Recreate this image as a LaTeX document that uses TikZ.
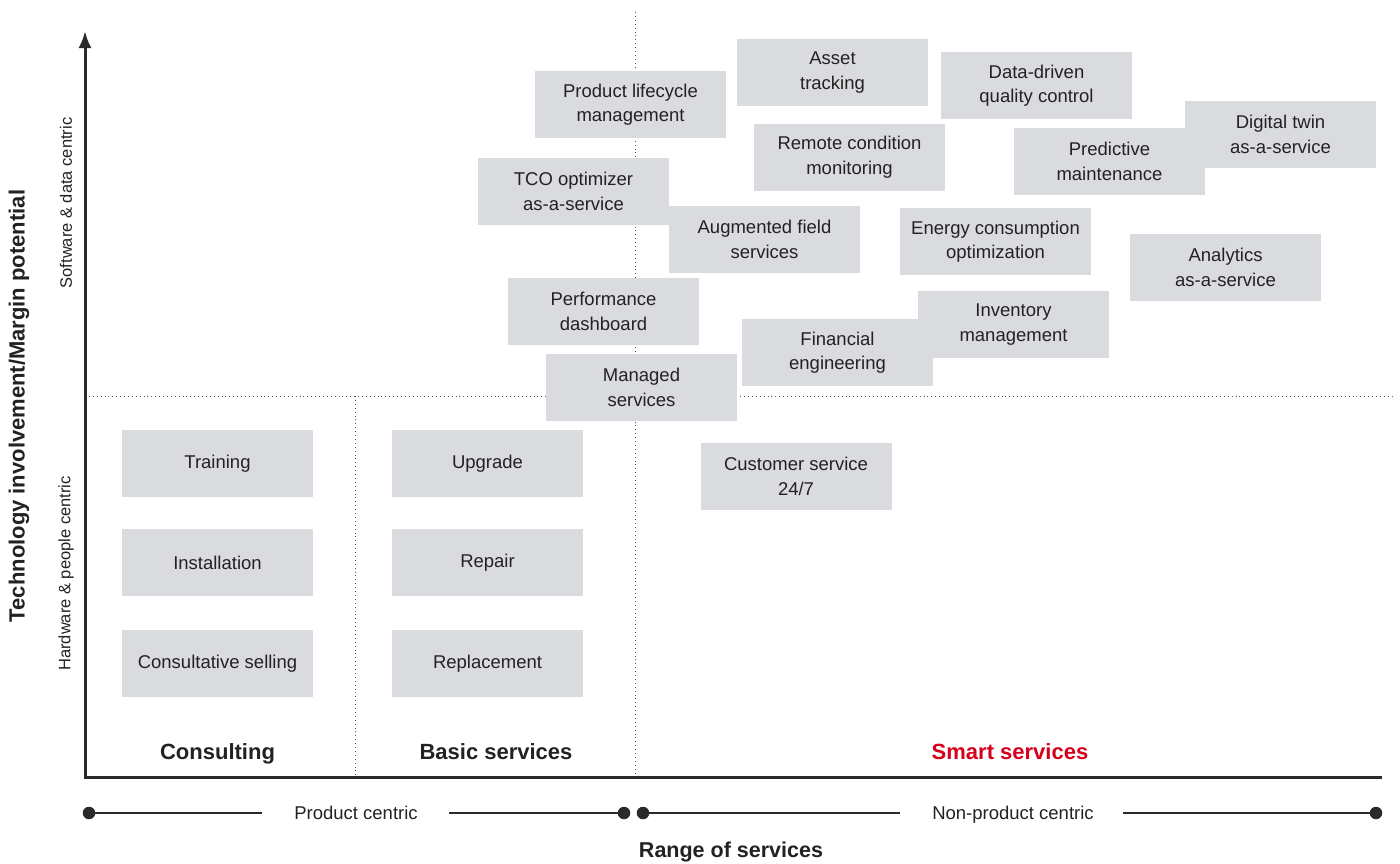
\documentclass[tikz,border=0pt]{standalone}
\usepackage{fontspec}
\setmainfont{Liberation Sans}
\usetikzlibrary{arrows.meta}
\definecolor{boxgray}{HTML}{DADBDF}
\definecolor{txtgray}{HTML}{222222}
\definecolor{axisgray}{HTML}{2A2A2A}
\definecolor{dotgray}{HTML}{555555}
\definecolor{smartred}{HTML}{D5001C}
\tikzset{
  svc/.style={fill=boxgray, minimum width=191pt, minimum height=67pt, inner sep=0pt,
    align=center, text=txtgray, font=\fontsize{18.5}{24.5}\selectfont},
  grid/.style={draw=dotgray, line width=0.9pt, dash pattern=on 0.9pt off 3pt},
  axisline/.style={draw=axisgray, line width=3pt},
  bline/.style={draw=axisgray, line width=2.8pt},
  enddot/.style={circle, fill=axisgray, minimum size=12.5pt, inner sep=0pt},
  catlabel/.style={font=\fontsize{22}{26}\selectfont\bfseries, text=txtgray, anchor=base},
  sidelabel/.style={font=\fontsize{16.5}{20}\selectfont, text=txtgray, rotate=90},
  bottomlabel/.style={font=\fontsize{18.5}{22}\selectfont, text=txtgray, anchor=base},
}
\begin{document}
\begin{tikzpicture}[x=1pt,y=-1pt]
\useasboundingbox (0,0) rectangle (1400,863);
% grid
\coordinate (hl) at (85,396);
\coordinate (hr) at (1393,396);
\coordinate (v1t) at (355,396);
\coordinate (v1b) at (355,777);
\coordinate (v2t) at (635,12);
\coordinate (v2b) at (635,777);
\draw[grid] (hl) -- (hr);
\draw[grid] (v1t) -- (v1b);
\draw[grid] (v2t) -- (v2b);
% axes
\coordinate (origin) at (85,777);
\coordinate (ytip) at (85,31);
\coordinate (xend) at (1382,777);
\draw[axisline, {Latex[length=17pt,width=13pt]}-] (ytip) -- (origin) -- (xend);
% boxes
\node[svc] (train) at (217.5,463.5) {Training};
\node[svc] (install) at (217.5,562.5) {Installation};
\node[svc] (consult) at (217.5,663.5) {Consultative selling};
\node[svc] (upgrade) at (487.5,463.5) {Upgrade};
\node[svc] (repair) at (487.5,562.5) {Repair};
\node[svc] (replace) at (487.5,663.5) {Replacement};
\node[svc] (custsvc) at (796,476.5) {Customer service\\24/7};
\node[svc] (managed) at (641.5,387.5) {Managed\\services};
\node[svc] (perf) at (603.5,311.5) {Performance\\dashboard};
\node[svc] (inv) at (1013.5,324.5) {Inventory\\management};
\node[svc] (fin) at (837.5,352.5) {Financial\\engineering};
\node[svc] (aug) at (764.5,239.5) {Augmented field\\services};
\node[svc] (energy) at (995.5,241.5) {Energy consumption\\optimization};
\node[svc] (analytics) at (1225.5,267.5) {Analytics\\as-a-service};
\node[svc] (tco) at (573.5,191.5) {TCO optimizer\\as-a-service};
\node[svc] (plm) at (630.5,104.5) {Product lifecycle\\management};
\node[svc] (asset) at (832.5,72.5) {Asset\\tracking};
\node[svc] (remote) at (849.5,157) {Remote condition\\monitoring};
\node[svc] (data) at (1036.5,85.5) {Data-driven\\quality control};
\node[svc] (twin) at (1280.5,134.5) {Digital twin\\as-a-service};
\node[svc] (predict) at (1109.5,161.5) {Predictive\\maintenance};
% category labels
\node[catlabel] (lconsult) at (217.5,759) {Consulting};
\node[catlabel] (lbasic) at (496,759) {Basic services};
\node[catlabel, text=smartred] (lsmart) at (1010,759) {Smart services};
% side labels
\node[sidelabel, font=\fontsize{22}{26}\selectfont\bfseries] (ylab) at (19,406) {Technology involvement/Margin potential};
\node[sidelabel] (lsoft) at (66,203) {Software \& data centric};
\node[sidelabel] (lhard) at (66,573.5) {Hardware \& people centric};
% bottom scale
\node[enddot] (d1) at (89,813) {};
\node[enddot] (d2) at (624,813) {};
\node[enddot] (d3) at (643,813) {};
\node[enddot] (d4) at (1376,813) {};
\node[bottomlabel] (lprod) at (356,819.5) {Product centric};
\node[bottomlabel] (lnonprod) at (1013,819.5) {Non-product centric};
\coordinate (a1) at (262,813);
\coordinate (a2) at (449,813);
\coordinate (b1) at (900,813);
\coordinate (b2) at (1123,813);
\draw[bline] (d1.center) -- (a1);
\draw[bline] (a2) -- (d2.center);
\draw[bline] (d3.center) -- (b1);
\draw[bline] (b2) -- (d4.center);
\node[catlabel, font=\fontsize{21.5}{26}\selectfont\bfseries] (lrange) at (731,857) {Range of services};
\end{tikzpicture}
\end{document}
